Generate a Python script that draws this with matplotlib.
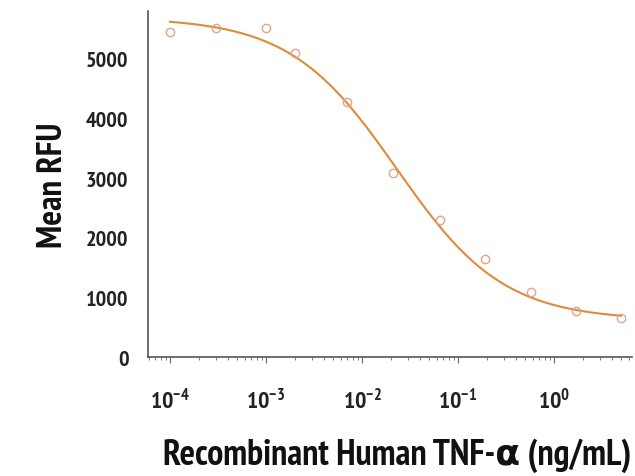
import matplotlib.pyplot as plt
import numpy as np

# Данные
conc = [1.0e-4, 3.0e-4, 1.0e-3, 2.0e-3, 7.0e-3, 2.1e-2, 6.5e-2, 0.19, 0.58, 1.7, 5.0]
rfu = [5450, 5510, 5520, 5100, 4280, 3080, 2300, 1640, 1090, 770, 660]

# Параметры 4PL-аппроксимации (верх, низ, EC50, наклон)
fit_top = 5690
fit_bottom = 620
fit_ec50 = 0.023
fit_hill = 0.78

yticks = [0, 1000, 2000, 3000, 4000, 5000]
xticks = [1e-4, 1e-3, 1e-2, 1e-1, 1e0]
xticklabels = ['$\\mathbf{10^{-4}}$', '$\\mathbf{10^{-3}}$', '$\\mathbf{10^{-2}}$',
               '$\\mathbf{10^{-1}}$', '$\\mathbf{10^{0}}$']

family = 'PT Sans Narrow'
plt.rcParams['font.family'] = [family, 'DejaVu Sans']
plt.rcParams['mathtext.fontset'] = 'custom'
plt.rcParams['mathtext.rm'] = family
plt.rcParams['mathtext.bf'] = family + ':bold'

fig = plt.figure(figsize=(6.35, 4.77), dpi=100)
ax = fig.add_axes([0.233, 0.249, 0.762, 0.726])

# Кривая аппроксимации
xs = np.logspace(-4, np.log10(5.0), 300)
ys = fit_bottom + (fit_top - fit_bottom) / (1 + (xs / fit_ec50) ** fit_hill)
ax.plot(xs, ys, color='#e08a3a', lw=1.5, zorder=2)

# Точки
ax.plot(conc, rfu, 'o', mfc='none', mec='#e0a58a', ms=6, mew=1.0, zorder=3)

ax.set_xscale('log')
ax.set_xlim(10 ** -4.23, 10 ** 0.81)
ax.set_ylim(0, 5800)

ax.set_yticks(yticks)
ax.set_yticklabels([str(v) for v in yticks], fontsize=16, fontweight='bold', color='#222222')
ax.set_xticks(xticks)
ax.set_xticklabels(xticklabels, fontsize=17, color='#222222')

ax.tick_params(axis='y', length=0, pad=14)
ax.tick_params(axis='x', which='major', length=4, direction='out', color='#666666', pad=18)
ax.tick_params(axis='x', which='minor', length=2.5, direction='out', color='#666666')

for s in ['top', 'right']:
    ax.spines[s].set_visible(False)
for s in ['left', 'bottom']:
    ax.spines[s].set_color('#555555')
    ax.spines[s].set_linewidth(1.2)

ax.set_ylabel('Mean RFU', fontsize=25, fontweight='bold', color='#111111', labelpad=12)
ax.set_xlabel('Recombinant Human TNF-α (ng/mL)', fontsize=26, fontweight='bold',
              color='#111111', labelpad=18, x=0.515)

plt.savefig('out.png', dpi=100)
